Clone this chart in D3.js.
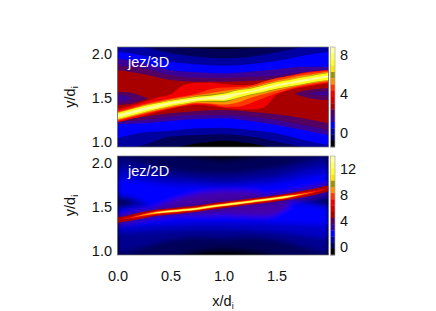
<!DOCTYPE html>
<html><head><meta charset="utf-8">
<script src="https://cdn.jsdelivr.net/npm/d3@7"></script>
<style>html,body{margin:0;padding:0;background:#fff}svg{display:block}text{font-family:"Liberation Sans",Arial,sans-serif;fill:#111}</style>
</head><body><div id="c"></div>
<script>
// colour table, top of the bar first
const palette=["#ffffa0","#ffff60","#ffff20","#ffe800","#9c9400","#ff9000","#ff3800","#f00000","#d00000","#a80000","#520060","#3a0098","#0000ff","#0000a0","#000058","#000000"];
const [PALE,YEL,YEL3,YEL2,OLIVE,ORANGE,ORED,RED,CRIM,DRED,PURP,INDI,BLUE,NAVY,DNAVY,BLACK]=palette;
const xCoarse=[0,.25,.5,.75,1,1.25,1.5,1.75,1.99];
const xFine=[0,.125,.25,.375,.5,.625,.75,.875,1,1.125,1.25,1.375,1.5,1.625,1.75,1.875,1.99];
const xTicks=[0,.5,1,1.5], yTicks=[1,1.5,2];
const barTicks3D=[0,4,8], barTicks2D=[0,4,8,12];

// 3D panel: top and bottom edge of every colour band (y/di)
const t3dNavyDark=[2.12,2.11,2.08,2.065,2.055,2.065,2.08,2.11,2.12], b3dNavyDark=[.91,.93,.935,.985,1.015,.985,.93,.91,.89];
const t3dNavy=[2.11,2.076,2.008,1.97,1.951,1.97,2.02,2.076,2.11], b3dNavy=[.909,.966,1.061,1.08,1.087,1.061,1.004,.947,.909];
const t3dBlue=[2.027,1.981,1.913,1.883,1.867,1.883,1.92,1.981,2.027], b3dBlue=[1.042,1.11,1.129,1.155,1.163,1.136,1.098,1.023,.966];
const t3dIndigo=[1.951,1.894,1.818,1.792,1.780,1.799,1.826,1.856,1.856], b3dIndigo=[1.205,1.212,1.239,1.261,1.269,1.239,1.193,1.136,1.08];
const t3dPurple=[1.875,1.837,1.761,1.731,1.731,1.742,1.754,1.792,1.799], b3dPurple=[1.231,1.25,1.288,1.307,1.307,1.288,1.25,1.193,1.136];
const t3dDred=[1.818,1.769,1.705,1.686,1.686,1.693,1.716,1.761,1.792], b3dDred=[1.25,1.288,1.326,1.352,1.364,1.345,1.314,1.269,1.212];
const xNotchL=[0,.1,.2,.28], tNotchL=[1.572,1.565,1.534,1.496], bNotchL=[1.42,1.428,1.458,1.489];
const xNotchLi=[0,.07,.135], tNotchLi=[1.534,1.527,1.496], bNotchLi=[1.458,1.466,1.489];
const xNotchR=[1.675,1.75,1.85,1.99], tNotchR=[1.553,1.58,1.6,1.61], bNotchR=[1.545,1.515,1.489,1.477];
const xNotchRi=[1.82,1.9,1.99], tNotchRi=[1.553,1.568,1.576], bNotchRi=[1.545,1.534,1.53];
const t3dCrim=[1.375,1.413,1.458,1.504,1.542,1.648,1.674,1.674,1.659,1.648,1.648,1.678,1.724,1.754,1.788,1.807,1.818];
const b3dCrim=[1.224,1.261,1.299,1.337,1.375,1.405,1.42,1.413,1.39,1.375,1.368,1.39,1.534,1.591,1.621,1.648,1.667];
const t3dOred=[1.352,1.39,1.432,1.465,1.495,1.52,1.55,1.6,1.62,1.625,1.64,1.686,1.724,1.75,1.78,1.799,1.811];
const b3dOred=[1.239,1.277,1.314,1.352,1.385,1.415,1.435,1.428,1.402,1.402,1.439,1.496,1.553,1.599,1.636,1.659,1.678];
const t3dOrange=[1.337,1.375,1.42,1.452,1.482,1.508,1.53,1.555,1.58,1.60,1.622,1.66,1.7,1.728,1.758,1.78,1.799];
const b3dOrange=[1.25,1.288,1.326,1.36,1.395,1.42,1.445,1.439,1.425,1.445,1.5,1.542,1.583,1.617,1.648,1.674,1.693];
const t3dOlive=[1.33,1.368,1.41,1.442,1.472,1.496,1.525,1.54,1.56,1.592,1.612,1.648,1.684,1.708,1.738,1.766,1.788];
const b3dOlive=[1.261,1.299,1.337,1.372,1.408,1.432,1.455,1.458,1.452,1.492,1.53,1.56,1.597,1.628,1.655,1.683,1.703];
const t3dYel=[1.33,1.368,1.41,1.44,1.47,1.493,1.515,1.527,1.548,1.586,1.606,1.642,1.68,1.705,1.735,1.763,1.785];
const b3dYel=[1.261,1.299,1.337,1.374,1.41,1.436,1.46,1.468,1.468,1.5,1.54,1.568,1.604,1.634,1.66,1.688,1.706];
const t3dPale=[1.31,1.35,1.39,1.423,1.452,1.475,1.497,1.512,1.53,1.558,1.58,1.617,1.655,1.68,1.71,1.737,1.757];
const b3dPale=[1.278,1.318,1.358,1.392,1.428,1.452,1.476,1.485,1.481,1.53,1.562,1.595,1.63,1.658,1.686,1.714,1.734];

// 2D panel
const t2dA=[2.107,2.107,2.096,2.077,2.061,2.077,2.096,2.107,2.107], b2dA=[.893,.893,.912,.962,.989,.97,.912,.893,.893];
const t2dB=[2.134,2.134,2.115,2.069,2.031,2.069,2.115,2.134,2.134], b2dB=[.893,.893,.939,1.0,1.027,1.008,.951,.893,.893];
const t2dC=[2.058,2.0,1.924,1.886,1.878,1.905,1.943,2.019,2.084], b2dC=[.97,1.046,1.122,1.153,1.142,1.153,1.122,1.046,.97];
const t2dD=[1.943,1.886,1.829,1.81,1.79,1.81,1.847,1.924,1.981], b2dD=[1.199,1.218,1.237,1.245,1.245,1.237,1.218,1.18,1.142];
const t2dE=[1.829,1.79,1.752,1.741,1.733,1.745,1.771,1.829,1.886], b2dE=[1.283,1.294,1.313,1.332,1.332,1.332,1.321,1.306,1.294];
const x2NotchL=[0,.1,.2,.3], t2NotchL=[1.638,1.619,1.58,1.523], b2NotchL=[1.474,1.485,1.504,1.519];
const x2NotchLi=[0,.08,.16], t2NotchLi=[1.6,1.588,1.55], b2NotchLi=[1.504,1.512,1.542];
const x2NotchR=[1.6,1.7,1.85,1.99], t2NotchR=[1.58,1.6,1.619,1.638], b2NotchR=[1.573,1.55,1.523,1.497];
const x2NotchRi=[1.8,1.9,1.99], t2NotchRi=[1.573,1.588,1.596], b2NotchRi=[1.565,1.542,1.519];
const x2Blob=[.35,.6,.8,1,1.2,1.4,1.62], t2Blob=[1.504,1.61,1.667,1.686,1.686,1.648,1.58], b2Blob=[1.428,1.399,1.399,1.41,1.399,1.391,1.504];
const ridge2D=[1.351,1.378,1.409,1.435,1.451,1.466,1.481,1.504,1.523,1.542,1.561,1.58,1.6,1.622,1.649,1.68,1.714];
const hwIndigo=[.06,.062,.062,.062,.062,.062,.062,.062,.062,.062,.062,.062,.062,.062,.062,.065,.065];
const hwDred=[.03,.035,.036,.036,.036,.036,.036,.036,.036,.036,.036,.036,.036,.036,.038,.036,.032];
const hwRed=[0,.01,.02,.023,.023,.023,.023,.023,.023,.023,.023,.023,.023,.023,.02,.01,0];
const hwOrange=[0,0,.007,.013,.015,.015,.015,.015,.015,.015,.015,.015,.015,.013,.006,0,0];
const hwYellow=[0,0,0,.004,.008,.008,.009,.009,.009,.009,.009,.009,.009,.006,0,0,0];

const W=436,H=311,x0=117.5,x1=328.5,barX0=330.5,barX1=335;
const x=d3.scaleLinear().domain([0,1.99]).range([x0,x1]);
const svg=d3.select("#c").append("svg").attr("width",W).attr("height",H);
const defs=svg.append("defs");
function blur(id,s){defs.append("filter").attr("id",id).attr("x","-5%").attr("y","-5%").attr("width","110%").attr("height","110%").append("feGaussianBlur").attr("stdDeviation",s);}
blur("b3",.55);blur("b2",2.4);blur("r2",.6);

function panel(o){
  const y=d3.scaleLinear().domain(o.yd).range([o.top,o.bottom]);
  const id="clip"+o.name.replace("/","");
  defs.append("clipPath").attr("id",id).append("rect").attr("x",x0).attr("y",o.top).attr("width",x1-x0).attr("height",o.bottom-o.top);
  const outer=svg.append("g").attr("clip-path",`url(#${id})`);
  outer.append("rect").attr("x",x0-6).attr("y",o.top-6).attr("width",x1-x0+12).attr("height",o.bottom-o.top+12).attr("fill",BLACK);
  const draw=(g,layers)=>layers.forEach(([c,xs,t,b])=>{
    const pts=xs.map((v,i)=>[v,t[i],b[i]]);
    g.append("path").attr("fill",c).attr("d",d3.area().x(d=>x(d[0])).y0(d=>y(d[1])).y1(d=>y(d[2])).curve(d3.curveMonotoneX)(pts));
  });
  draw(outer.append("g").attr("filter",`url(#${o.blur})`),o.layers);
  if(o.ridge) draw(outer.append("g").attr("filter","url(#r2)"),o.ridge);
  svg.append("rect").attr("x",x0).attr("y",o.top).attr("width",x1-x0).attr("height",o.bottom-o.top).attr("fill","none").attr("stroke","#777").attr("stroke-width",.7);
  svg.append("text").attr("x",128).attr("y",o.top+20).attr("font-size",14.5).style("fill","#fff").text(o.name);
  // y axis
  const ay=d3.axisLeft(y).tickValues(yTicks).tickSize(0).tickPadding(0).tickFormat(d3.format(".1f"));
  const gy=svg.append("g").attr("transform",`translate(${x0-5.5},0)`).call(ay);
  gy.select(".domain").remove();
  gy.selectAll("text").attr("font-size",14.5).style("font-family",'"Liberation Sans"').style("fill","#111");
  const lab=svg.append("text").attr("transform",`translate(75,${(o.top+o.bottom)/2}) rotate(-90)`).attr("text-anchor","middle").attr("font-size",14.5);
  lab.append("tspan").text("y/d");
  lab.append("tspan").attr("dy",3).attr("font-size",9).text("i");
  // colour bar
  const band=d3.scaleBand().domain(palette).range([o.top,o.bottom]);
  svg.append("g").selectAll("rect").data(palette).join("rect").attr("x",barX0).attr("y",d=>band(d)).attr("width",barX1-barX0).attr("height",band.bandwidth()+.3).attr("fill",d=>d);
  svg.append("rect").attr("x",barX0).attr("y",o.top).attr("width",barX1-barX0).attr("height",o.bottom-o.top).attr("fill","none").attr("stroke","#aaa").attr("stroke-width",.7);
  const by=d3.scaleLinear().domain(o.barDomain).range([o.bottom,o.top]);
  const ab=d3.axisRight(by).tickValues(o.barTicks).tickSize(0).tickPadding(0).tickFormat(d3.format("d"));
  const gb=svg.append("g").attr("transform",`translate(340,0)`).call(ab);
  gb.select(".domain").remove();
  gb.selectAll("text").attr("font-size",14.5).style("font-family",'"Liberation Sans"').style("fill","#111");
}

panel({name:"jez/3D",top:47,bottom:147,yd:[2.08,.943],blur:"b3",barDomain:[-1.44,8.82],barTicks:barTicks3D,layers:[
 [DNAVY,xCoarse,t3dNavyDark,b3dNavyDark],[NAVY,xCoarse,t3dNavy,b3dNavy],[BLUE,xCoarse,t3dBlue,b3dBlue],
 [INDI,xCoarse,t3dIndigo,b3dIndigo],[PURP,xCoarse,t3dPurple,b3dPurple],[DRED,xCoarse,t3dDred,b3dDred],
 [PURP,xNotchL,tNotchL,bNotchL],[INDI,xNotchLi,tNotchLi,bNotchLi],[PURP,xNotchR,tNotchR,bNotchR],[INDI,xNotchRi,tNotchRi,bNotchRi],
 [RED,xFine,t3dCrim,b3dCrim],[ORED,xFine,t3dOred,b3dOred],[ORANGE,xFine,t3dOrange,b3dOrange],
 [OLIVE,xFine,t3dOlive,b3dOlive],[YEL3,xFine,t3dYel,b3dYel],[PALE,xFine,t3dPale,b3dPale]]});

const up=(c,h)=>c.map((v,i)=>v+h[i]), dn=(c,h)=>c.map((v,i)=>v-h[i]);
panel({name:"jez/2D",top:156,bottom:255,yd:[2.084,.951],blur:"b2",barDomain:[-1.2,14],barTicks:barTicks2D,layers:[
 ["#00002c",xCoarse,t2dA,b2dA],[DNAVY,xCoarse,t2dB,b2dB],["#000090",xCoarse,t2dC,b2dC],["#0000c8",xCoarse,t2dD,b2dD],[BLUE,xCoarse,t2dE,b2dE],
 ["#0000a0",x2NotchL,t2NotchL,b2NotchL],[DNAVY,x2NotchLi,t2NotchLi,b2NotchLi],["#0000a0",x2NotchR,t2NotchR,b2NotchR],[DNAVY,x2NotchRi,t2NotchRi,b2NotchRi],
 ["#4400a8",x2Blob,t2Blob,b2Blob],[INDI,xFine,up(ridge2D,hwIndigo),dn(ridge2D,hwIndigo)]],
 ridge:[[DRED,xFine,up(ridge2D,hwDred),dn(ridge2D,hwDred)],[RED,xFine,up(ridge2D,hwRed),dn(ridge2D,hwRed)],[ORANGE,xFine,up(ridge2D,hwOrange),dn(ridge2D,hwOrange)],[YEL,xFine,up(ridge2D,hwYellow),dn(ridge2D,hwYellow)]]});

// x axis
const gx=svg.append("g").attr("transform","translate(0,271)").call(d3.axisBottom(x).tickValues(xTicks).tickSize(0).tickPadding(0).tickFormat(d3.format(".1f")));
gx.select(".domain").remove();
gx.selectAll("text").attr("font-size",14.5).style("font-family",'"Liberation Sans"').style("fill","#111");
const xl=svg.append("text").attr("x",223).attr("y",306).attr("text-anchor","middle").attr("font-size",14.5);
xl.append("tspan").text("x/d");
xl.append("tspan").attr("dy",3).attr("font-size",9).text("i");
</script></body></html>
